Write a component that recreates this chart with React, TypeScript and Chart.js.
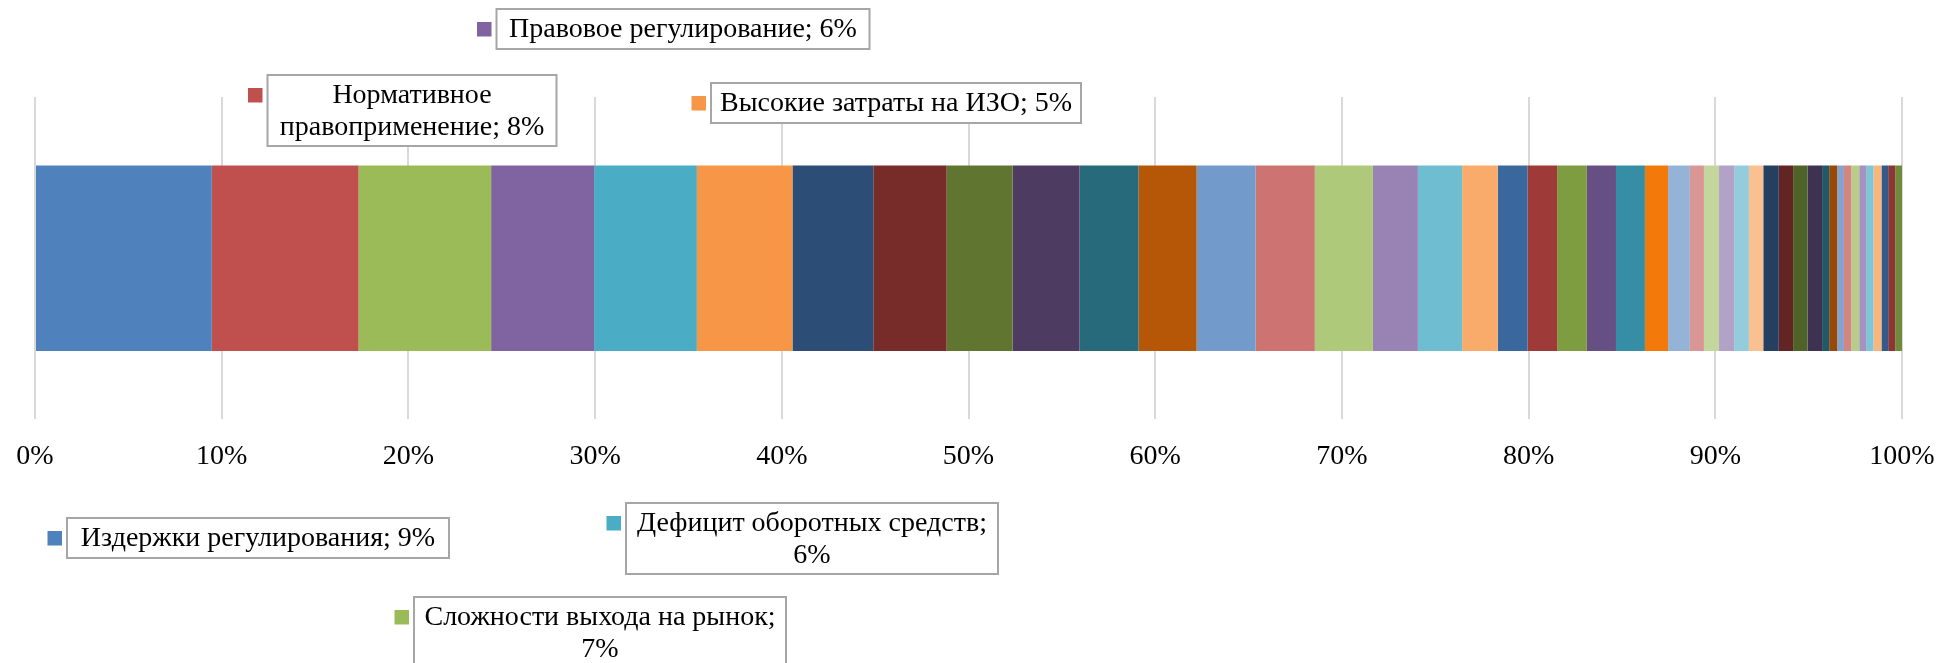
import React, { useEffect, useRef } from "react";
import { Chart, registerables } from "chart.js";

Chart.register(...registerables);

// ---------- data ----------
const categories = [""];

const segmentNames = [
  "Издержки регулирования",
  "Нормативное правоприменение",
  "Сложности выхода на рынок",
  "Правовое регулирование",
  "Дефицит оборотных средств",
  "Высокие затраты на ИЗО",
  "Фактор 7", "Фактор 8", "Фактор 9", "Фактор 10", "Фактор 11", "Фактор 12",
  "Фактор 13", "Фактор 14", "Фактор 15", "Фактор 16", "Фактор 17", "Фактор 18",
  "Фактор 19", "Фактор 20", "Фактор 21", "Фактор 22", "Фактор 23", "Фактор 24",
  "Фактор 25", "Фактор 26", "Фактор 27", "Фактор 28", "Фактор 29", "Фактор 30",
  "Фактор 31", "Фактор 32", "Фактор 33", "Фактор 34", "Фактор 35", "Фактор 36",
  "Фактор 37", "Фактор 38", "Фактор 39", "Фактор 40", "Фактор 41", "Фактор 42",
  "Фактор 43", "Фактор 44", "Фактор 45",
];

const segmentValues = [
  9.47, 7.86, 7.10, 5.52, 5.50, 5.12,
  4.33, 3.93, 3.53, 3.59, 3.16, 3.11,
  3.16, 3.17, 3.11, 2.41, 2.37, 1.91,
  1.60, 1.58, 1.59, 1.56, 1.55, 1.24,
  1.17, 0.75, 0.81, 0.81, 0.79, 0.77,
  0.83, 0.77, 0.77, 0.78, 0.38, 0.43,
  0.36, 0.39, 0.43, 0.37, 0.39, 0.43,
  0.36, 0.38, 0.36,
];

const segmentColors = [
  "#4F81BD", "#C0504D", "#9BBB59", "#8064A2", "#4BACC6", "#F79646",
  "#2C4D75", "#772C2A", "#5F7530", "#4D3B62", "#276A7C", "#B65708",
  "#729ACA", "#CD7371", "#AFC97A", "#9983B5", "#6FBDD1", "#F9AB6B",
  "#3A679C", "#9E3B38", "#7E9C40", "#664F82", "#358EA6", "#F37A0A",
  "#95B3D7", "#D99694", "#C3D69B", "#B2A2C7", "#93CDDD", "#FAC090",
  "#243F60", "#632523", "#4F6228", "#3F3151", "#215968", "#984807",
  "#84A4CE", "#D48582", "#B9CD8A", "#A592BE", "#7FC5D8", "#F8B57C",
  "#335A8B", "#8A3634", "#6F8B37",
];

const tickValues = [0, 10, 20, 30, 40, 50, 60, 70, 80, 90, 100];

// ---------- callout layout (pixel positions of label boxes) ----------
const calloutLayout = [
  { index: 0, cx: 258, top: 518, width: 382, breakAfterWord: 0 },
  { index: 1, cx: 412, top: 75, width: 289, breakAfterWord: 1 },
  { index: 2, cx: 600, top: 597, width: 372, breakAfterWord: 4 },
  { index: 3, cx: 683, top: 9, width: 373, breakAfterWord: 0 },
  { index: 4, cx: 812, top: 503, width: 372, breakAfterWord: 3 },
  { index: 5, cx: 896, top: 83, width: 370, breakAfterWord: 0 },
];

const FONT_FAMILY = '"Liberation Serif", "Times New Roman", serif';

const calloutPlugin = {
  id: "callouts",
  afterDatasetsDraw(chart: any) {
    const ctx = chart.ctx as CanvasRenderingContext2D;
    ctx.save();
    ctx.font = `28px ${FONT_FAMILY}`;
    for (const c of calloutLayout) {
      const name = segmentNames[c.index];
      const pct = Math.round(segmentValues[c.index]);
      const full = `${name}; ${pct}%`;
      const words = full.split(" ");
      const lines =
        c.breakAfterWord > 0
          ? [words.slice(0, c.breakAfterWord).join(" "), words.slice(c.breakAfterWord).join(" ")]
          : [full];
      const textW = Math.max(...lines.map((l) => ctx.measureText(l).width));
      const w = Math.max(c.width, textW + 16);
      const h = lines.length === 1 ? 40 : 71;
      const left = c.cx - w / 2;
      ctx.fillStyle = "#FFFFFF";
      ctx.fillRect(left, c.top, w, h);
      ctx.strokeStyle = "#A6A6A6";
      ctx.lineWidth = 2;
      ctx.strokeRect(left, c.top, w, h);
      const firstCenter = lines.length === 1 ? c.top + h / 2 : c.top + 20;
      ctx.fillStyle = segmentColors[c.index];
      ctx.fillRect(left - 19.5, firstCenter - 7, 14.5, 14.5);
      ctx.fillStyle = "#000000";
      ctx.textAlign = "center";
      ctx.textBaseline = "middle";
      lines.forEach((l, i) => {
        const y = lines.length === 1 ? c.top + h / 2 + 1 : c.top + 21 + i * 32;
        ctx.fillText(l, c.cx, y);
      });
    }
    ctx.restore();
  },
};

export default function App() {
  const canvasRef = useRef<HTMLCanvasElement | null>(null);

  useEffect(() => {
    if (!canvasRef.current) return;
    const chart = new Chart(canvasRef.current, {
      type: "bar",
      data: {
        labels: categories,
        datasets: segmentValues.map((v, i) => ({
          label: segmentNames[i],
          data: [v],
          backgroundColor: segmentColors[i],
          borderWidth: 0,
          barPercentage: 0.575,
          categoryPercentage: 1,
        })),
      },
      options: {
        indexAxis: "y",
        responsive: false,
        animation: false,
        devicePixelRatio: 1,
        layout: { padding: { left: 35, right: 37, top: 97, bottom: 170 } },
        plugins: {
          legend: { display: false },
          tooltip: { enabled: false },
        },
        scales: {
          x: {
            stacked: true,
            min: 0,
            max: 100,
            afterBuildTicks: (axis: any) => {
              axis.ticks = tickValues.map((v) => ({ value: v }));
            },
            afterFit: (axis: any) => {
              axis.paddingLeft = 0;
              axis.paddingRight = 0;
            },
            ticks: {
              callback: (v: any) => `${v}%`,
              color: "#000000",
              font: { family: FONT_FAMILY, size: 28 },
              padding: 20,
              maxRotation: 0,
              autoSkip: false,
            },
            grid: { color: "#D9D9D9", lineWidth: 2, drawTicks: false },
            border: { display: false },
          },
          y: { stacked: true, display: false },
        },
      },
      plugins: [calloutPlugin],
    } as any);
    return () => chart.destroy();
  }, []);

  return (
    <div
      style={{
        position: "absolute",
        left: 0,
        top: 0,
        width: 1939,
        height: 663,
        background: "#FFFFFF",
      }}
    >
      <canvas ref={canvasRef} width={1939} height={663} />
    </div>
  );
}
